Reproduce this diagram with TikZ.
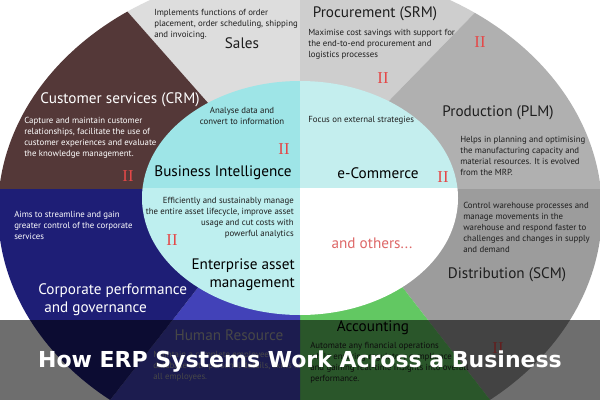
\documentclass[tikz,border=0pt]{standalone}
\usepackage{fontspec}
\setmainfont{PT Sans}
\newfontfamily\titlefont{DejaVu Sans}
\newfontfamily\romfont{Liberation Serif}
\definecolor{salesc}{RGB}{221,221,221}
\definecolor{procc}{RGB}{206,206,206}
\definecolor{prodc}{RGB}{176,176,176}
\definecolor{distc}{RGB}{156,156,156}
\definecolor{acctc}{RGB}{98,200,98}
\definecolor{hrc}{RGB}{66,66,184}
\definecolor{corpc}{RGB}{30,30,118}
\definecolor{crmc}{RGB}{84,56,56}
\definecolor{bic}{RGB}{158,229,231}
\definecolor{ecomc}{RGB}{196,238,238}
\definecolor{eamc}{RGB}{190,239,239}
\definecolor{markc}{RGB}{228,72,72}
\definecolor{otherc}{RGB}{222,104,104}
\definecolor{txtc}{RGB}{30,30,30}
\tikzset{
  big/.style={font=\fontsize{11.4pt}{13.8pt}\selectfont, inner sep=0pt},
  small/.style={font=\fontsize{6.6pt}{8.25pt}\selectfont, inner sep=0pt},
  redmark/.style={font=\romfont\fontsize{12.5pt}{12.5pt}\selectfont, text=markc, inner sep=0pt},
}
\begin{document}
\begin{tikzpicture}[x=0.75pt,y=-0.75pt]
\useasboundingbox (0,0) rectangle (600,400);
% outer ring sectors
\begin{scope}
\clip (300,211) ellipse [x radius=302, y radius=243];
\fill[salesc] (284,189) -- (73,-50) -- (300,-50) -- (300,189) -- cycle;
\fill[crmc] (284,189) -- (73,-50) -- (-50,-50) -- (-50,189) -- cycle;
\fill[procc] (300,189) -- (300,-50) -- (536,-50) -- (303,189) -- cycle;
\fill[prodc] (303,189) -- (536,-50) -- (650,-50) -- (650,189) -- cycle;
\fill[distc] (326,189) -- (650,189) -- (650,500) -- (568,500) -- cycle;
\fill[acctc] (300,189) -- (326,189) -- (568,500) -- (300,500) -- cycle;
\fill[hrc] (300,189) -- (300,500) -- (32,500) -- (275,189) -- cycle;
\fill[corpc] (275,189) -- (32,500) -- (-50,500) -- (-50,189) -- cycle;
\end{scope}
% inner ellipse quadrants
\begin{scope}
\clip (300,198) ellipse [x radius=158, y radius=117];
\fill[bic] (100,0) rectangle (300,188);
\fill[ecomc] (300,0) rectangle (500,188);
\fill[eamc] (100,188) rectangle (300,350);
\fill[white] (300,188) rectangle (500,350);
\end{scope}
% texts
\node[small, text=txtc, anchor=north west, align=left] (salesd) at (154,9) {Implements functions of order\\placement, order scheduling, shipping\\and invoicing.};
\node[big, text=txtc] (sales) at (242,43) {Sales};
\node[big, text=white] (crm) at (120,100) {Customer services (CRM)};
\node[small, text=white, anchor=north west, align=left] (crmd) at (24,117) {Capture and maintain customer\\relationships, facilitate the use of\\customer experiences and evaluate\\the knowledge management.};
\node[small, text=txtc, anchor=north, align=center] (bid) at (242,107) {Analyse data and\\convert to information};
\node[big, text=black] (bi) at (223,173) {Business Intelligence};
\node[big, text=txtc] (proc) at (375,14) {Procurement (SRM)};
\node[small, text=txtc, anchor=north west, align=left] (procd) at (308,29) {Maximise cost savings with support for\\the end-to-end procurement and\\logistics processes};
\node[big, text=txtc] (prod) at (498,113) {Production (PLM)};
\node[small, text=txtc, anchor=north west, align=left] (prodd) at (460,136) {Helps in planning and optimising\\the manufacturing capacity and\\material resources. It is evolved\\from the MRP.};
\node[small, text=txtc, anchor=north west, align=left] (ecomd) at (308,116) {Focus on external strategies};
\node[big, text=black] (ecom) at (378,173) {e-Commerce};
\node[small, text=white, anchor=north west, align=left] (corpd) at (14,211) {Aims to streamline and gain\\greater control of the corporate\\services};
\node[big, text=white, anchor=north west, align=left] (corp) at (38,283) {Corporate performance\\\hspace*{4.5pt}and governance};
\node[small, text=txtc, anchor=north east, align=right] (eamd) at (294,197) {Efficiently and sustainably manage\\the entire asset lifecycle, improve asset\\usage and cut costs with\\powerful analytics};
\node[big, text=black, anchor=north east, align=right] (eam) at (295,258) {Enterprise asset\\management};
\node[big, text=otherc] (others) at (372,243) {and others...};
\node[small, text=txtc, anchor=north west, align=left] (distd) at (463,202) {Control warehouse processes and\\manage movements in the\\warehouse and respond faster to\\challenges and changes in supply\\and demand};
\node[big, text=txtc] (dist) at (507,275) {Distribution (SCM)};
\node[big, text=black] (acct) at (373,328) {Accounting};
\node[small, text=txtc, anchor=north west, align=left] (acctd) at (310,342) {Automate any financial operations\\while ensuring regulatory compliance\\and gaining real-time insights into overall\\performance.};
\node[big, text=gray!70] (hr) at (229,335) {Human Resource};
\node[small, text=gray!70, anchor=north west, align=left] (hrd) at (153,351) {Maintain a complete employee\\database with personal details, skills of\\all employees.};
% markers
\node[redmark] (m1) at (128,176) {II};
\node[redmark] (m2) at (284,149) {II};
\node[redmark] (m3) at (383,78) {II};
\node[redmark] (m4) at (480,42) {II};
\node[redmark] (m5) at (443,177) {II};
\node[redmark] (m6) at (172,240) {II};
\node[redmark] (m7) at (498,348) {II};
% overlay band and title
\fill[black, opacity=0.57] (0,320) rectangle (600,400);
\node[font=\titlefont\bfseries\fontsize{16.5pt}{18pt}\selectfont, text=white, inner sep=0pt] (title) at (300,362) {How ERP Systems Work Across a Business};
\end{tikzpicture}
\end{document}
